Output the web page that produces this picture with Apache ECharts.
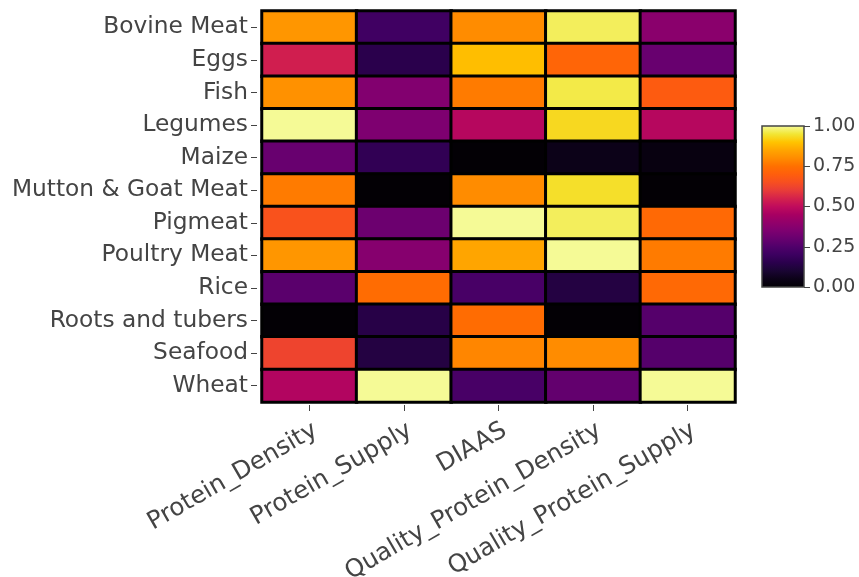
<!DOCTYPE html>
<html>
<head>
<meta charset="utf-8">
<script src="https://cdn.jsdelivr.net/npm/echarts@6/dist/echarts.min.js"></script>
<style>
  html, body { margin: 0; padding: 0; background: #fff; }
  #chart { width: 859px; height: 577px; }
</style>
</head>
<body>
<div id="chart"></div>
<script>
// Food groups (rows, top to bottom)
const foods = ['Bovine Meat', 'Eggs', 'Fish', 'Legumes', 'Maize', 'Mutton & Goat Meat',
  'Pigmeat', 'Poultry Meat', 'Rice', 'Roots and tubers', 'Seafood', 'Wheat'];

// Metrics (columns)
const metrics = ['Protein_Density', 'Protein_Supply', 'DIAAS',
  'Quality_Protein_Density', 'Quality_Protein_Supply'];

// Normalised scores per metric, one value per food in row order
const proteinDensity        = [0.82, 0.54, 0.81, 1.00, 0.30, 0.77, 0.66, 0.82, 0.27, 0.00, 0.62, 0.47];
const proteinSupply         = [0.21, 0.15, 0.36, 0.35, 0.17, 0.00, 0.31, 0.37, 0.74, 0.14, 0.13, 1.00];
const diaas                 = [0.80, 0.89, 0.77, 0.48, 0.00, 0.80, 1.00, 0.85, 0.23, 0.74, 0.79, 0.23];
const qualityProteinDensity = [0.97, 0.72, 0.96, 0.93, 0.05, 0.94, 0.97, 1.00, 0.13, 0.00, 0.80, 0.29];
const qualityProteinSupply  = [0.38, 0.30, 0.69, 0.48, 0.03, 0.00, 0.73, 0.77, 0.73, 0.26, 0.26, 1.00];

// Colour bar ticks
const colorTicks = [0, 0.25, 0.5, 0.75, 1];

// Inferno-like colour ramp, stops every 0.05 from 0 to 1
const ramp = ['#030005', '#0c0218', '#1a0533', '#2a004c', '#3c0060', '#50006a', '#68006f',
  '#7e0070', '#92006a', '#a80062', '#c00c5c', '#d4224c', '#e83c38', '#f74f20', '#ff5e0c',
  '#ff7000', '#ff8c00', '#ffa500', '#ffc400', '#f2e635', '#f5fa96'];

const columns = [proteinDensity, proteinSupply, diaas, qualityProteinDensity, qualityProteinSupply];
const cells = [];
columns.forEach((col, xi) => col.forEach((v, yi) => cells.push([xi, yi, v])));

const FONT = 'DejaVu Sans';
const TEXT = '#444';

const chart = echarts.init(document.getElementById('chart'), null, { renderer: 'canvas' });
chart.setOption({
  animation: false,
  backgroundColor: '#fff',
  textStyle: { fontFamily: FONT },
  grid: [
    { left: 262, top: 11, width: 473, height: 391, show: true, containLabel: false,
      outerBoundsMode: 'none',
      backgroundColor: '#000', borderColor: '#777', borderWidth: 1 },
    { left: 762, top: 126, width: 42, height: 161, show: true, containLabel: false,
      outerBoundsMode: 'none',
      backgroundColor: 'transparent', borderColor: '#444', borderWidth: 1.5, z: 5 }
  ],
  xAxis: [
    { type: 'category', gridIndex: 0, data: metrics, offset: 3,
      axisLine: { show: false },
      axisTick: { show: true, alignWithLabel: true, length: 6, lineStyle: { color: TEXT } },
      axisLabel: { rotate: 30, interval: 0, margin: 13, verticalAlign: 'top',
        fontSize: 24.5, color: TEXT, fontFamily: FONT },
      splitLine: { show: false } },
    { type: 'category', gridIndex: 1, data: [''], show: false }
  ],
  yAxis: [
    { type: 'category', gridIndex: 0, data: foods, inverse: true, offset: 5,
      axisLine: { show: false },
      axisTick: { show: true, alignWithLabel: true, length: 6, lineStyle: { color: TEXT } },
      axisLabel: { interval: 0, margin: 9, fontSize: 23.3, color: TEXT, fontFamily: FONT },
      splitLine: { show: false } },
    { type: 'value', gridIndex: 1, min: 0, max: 1, interval: 0.25, position: 'right',
      axisLine: { show: false },
      axisTick: { show: true, length: 6, lineStyle: { color: TEXT } },
      axisLabel: { margin: 9, fontSize: 19, color: TEXT, fontFamily: FONT,
        formatter: v => colorTicks.includes(+v.toFixed(2)) ? v.toFixed(2) : '' },
      splitLine: { show: false } }
  ],
  visualMap: {
    type: 'continuous', min: 0, max: 1, seriesIndex: 0, show: false,
    inRange: { color: ramp }
  },
  series: [
    { type: 'heatmap', xAxisIndex: 0, yAxisIndex: 0, data: cells,
      itemStyle: { borderColor: '#000', borderWidth: 3 },
      emphasis: { disabled: true } },
    { type: 'bar', xAxisIndex: 1, yAxisIndex: 1, data: [1], barWidth: '100%', silent: true,
      itemStyle: {
        color: new echarts.graphic.LinearGradient(0, 1, 0, 0,
          ramp.map((c, i) => ({ offset: i / (ramp.length - 1), color: c })))
      } }
  ]
});
</script>
</body>
</html>
